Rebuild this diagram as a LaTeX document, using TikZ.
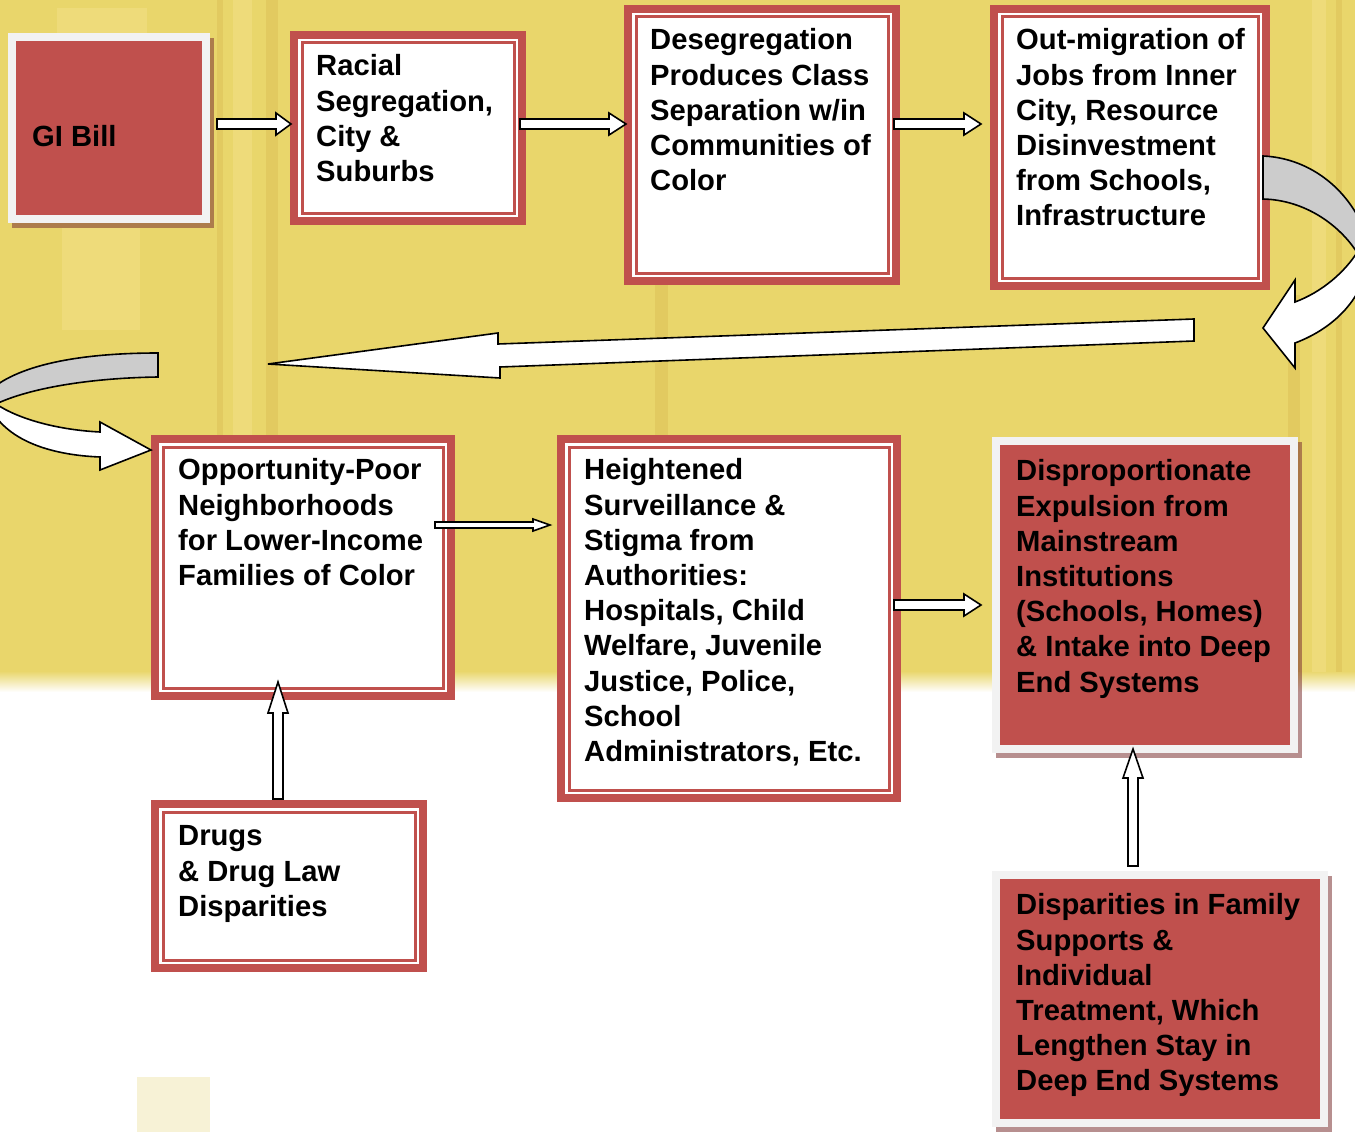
\documentclass[tikz,border=0pt]{standalone}
\usepackage{fontspec}
\setmainfont{Liberation Sans}
\usetikzlibrary{calc}
\definecolor{bred}{HTML}{C0504D}
\definecolor{bgy}{HTML}{E9D66B}
\definecolor{framec}{HTML}{F2F2F2}
\definecolor{shadc}{HTML}{7C3333}
\definecolor{arrgray}{HTML}{CCCCCC}
\definecolor{stD}{HTML}{E2CA60}
\definecolor{stL}{HTML}{EEDB7A}
\definecolor{paley}{HTML}{F7F2D6}
\tikzset{
 wboxs/.style={draw=bred, line width=8pt, fill=white, inner sep=0pt, outer sep=0pt},
 rboxs/.style={draw=framec, line width=8pt, fill=bred, inner sep=0pt, outer sep=0pt},
 txt/.style={font=\fontsize{29.2}{35.2}\selectfont\bfseries, align=left, inner sep=0pt, anchor=north west, text=black},
 barrow/.style={fill=white, draw=black, line width=1.6pt, line join=miter},
 carrow/.style={fill=arrgray, draw=black, line width=1.6pt},
 shadowfill/.style={fill=shadc, opacity=.55},
}
\newcommand\mkwbox[5]{%
 \node[wboxs, minimum width={(#4-#2-8)*1pt}, minimum height={(#5-#3-8)*1pt}] (#1) at ({(#2+#4)/2},{(#3+#5)/2}) {};
 \draw[bred, line width=3pt] ([xshift=8pt,yshift=-8pt]#1.north west) rectangle ([xshift=-8pt,yshift=8pt]#1.south east);}
\newcommand\mkrbox[5]{%
 \fill[shadowfill] ({#2+4},{#3+5}) rectangle ({#4+4},{#5+5});
 \node[rboxs, minimum width={(#4-#2-8)*1pt}, minimum height={(#5-#3-8)*1pt}] (#1) at ({(#2+#4)/2},{(#3+#5)/2}) {};}
\newcommand\rarr[6]{%
 \draw[barrow] (#1,{#3-#4}) -- ({#2-#6},{#3-#4}) -- ({#2-#6},{#3-#5}) -- (#2,#3) -- ({#2-#6},{#3+#5}) -- ({#2-#6},{#3+#4}) -- (#1,{#3+#4}) -- cycle;}
\newcommand\uarr[6]{%
 \draw[barrow] ({#1-#4},#2) -- ({#1-#4},{#3+#6}) -- ({#1-#5},{#3+#6}) -- (#1,#3) -- ({#1+#5},{#3+#6}) -- ({#1+#4},{#3+#6}) -- ({#1+#4},#2) -- cycle;}
\begin{document}
\begin{tikzpicture}[x=1pt,y=-1pt]
\useasboundingbox (0,0) rectangle (1355,1132);
% background
\fill[white] (0,0) rectangle (1355,1132);
\fill[bgy] (0,0) rectangle (1355,672);
\shade[top color=bgy, bottom color=white] (0,671) rectangle (1355,692);
\fill[stD] (217,0) rectangle (223,672);
\fill[stL] (233,0) rectangle (252,672);
\fill[stD] (266,0) rectangle (278,672);
\fill[stL] (57,8) rectangle (147,33);
\fill[stL] (62,228) rectangle (140,330);
\fill[stD] (655,285) rectangle (668,435);
\fill[stD] (1288,295) rectangle (1300,672);
\fill[stL] (1312,0) rectangle (1326,672);
\fill[stD] (1336,0) rectangle (1342,672);
\fill[paley] (137,1077) rectangle (210,1132);
% boxes
\mkrbox{gi}{8}{33}{210}{223}
\mkwbox{ra}{290}{31}{526}{225}
\mkwbox{de}{624}{5}{900}{285}
\mkwbox{om}{990}{5}{1270}{290}
\mkwbox{op}{151}{435}{455}{700}
\mkwbox{hs}{557}{435}{901}{802}
\mkrbox{dp}{992}{437}{1298}{753}
\mkwbox{dr}{151}{800}{427}{972}
\mkrbox{df}{992}{871}{1328}{1127}
% texts
\node[txt, anchor=base west] (git) at ([xshift=20pt,yshift=-18pt]gi.west) {GI Bill};
\node[txt] (rat) at ([xshift=22pt,yshift=-16pt]ra.north west) {\strut Racial\\Segregation,\\City \&\\Suburbs};
\node[txt] (det) at ([xshift=22pt,yshift=-16pt]de.north west) {\strut Desegregation\\Produces Class\\Separation w/in\\Communities of\\Color};
\node[txt] (omt) at ([xshift=22pt,yshift=-16pt]om.north west) {\strut Out-migration of\\Jobs from Inner\\City, Resource\\Disinvestment\\from Schools,\\Infrastructure};
\node[txt] (opt) at ([xshift=23pt,yshift=-16pt]op.north west) {\strut Opportunity-Poor\\Neighborhoods\\for Lower-Income\\Families of Color};
\node[txt] (hst) at ([xshift=23pt,yshift=-16pt]hs.north west) {\strut Heightened\\Surveillance \&\\Stigma from\\Authorities:\\Hospitals, Child\\Welfare, Juvenile\\Justice, Police,\\School\\Administrators, Etc.};
\node[txt] (dpt) at ([xshift=20pt,yshift=-15pt]dp.north west) {\strut Disproportionate\\Expulsion from\\Mainstream\\Institutions\\(Schools, Homes)\\\& Intake into Deep\\End Systems};
\node[txt] (drt) at ([xshift=23pt,yshift=-17pt]dr.north west) {\strut Drugs\\\& Drug Law\\Disparities};
\node[txt] (dft) at ([xshift=20pt,yshift=-15pt]df.north west) {\strut Disparities in Family\\Supports \&\\Individual\\Treatment, Which\\Lengthen Stay in\\Deep End Systems};
% straight block arrows
\rarr{217}{291}{124}{5}{11}{15}
\rarr{520}{626}{124}{5}{11}{17}
\rarr{894}{981}{124}{5}{11}{17}
\rarr{894}{981}{605}{5}{11}{17}
\rarr{435}{550}{525}{3}{6}{17}
\uarr{278}{799}{682}{5}{10}{31}
\uarr{1133}{866}{749}{5}{10}{29}
% long arrow
\draw[barrow] (1194,319) -- (498,344) -- (498,333) -- (268,364) -- (500,378) -- (500,367) -- (1194,341) -- cycle;
% curved arrows
\begin{scope}
\clip (0,0) rectangle (1355,1132);
\draw[carrow] (1263,156) .. controls (1310,158) and (1352,190) .. (1368,240) -- (1358,254) .. controls (1340,225) and (1305,200) .. (1263,199) -- cycle;
\draw[barrow] (1358,251) .. controls (1345,272) and (1322,292) .. (1295,302) -- (1295,280) -- (1263,328) -- (1295,368) -- (1295,343) .. controls (1335,328) and (1370,295) .. (1370,244) -- cycle;
\draw[carrow] (158,353) .. controls (90,353) and (20,362) .. (-12,392) -- (-4,404) .. controls (30,388) and (90,378) .. (158,377) -- cycle;
\draw[barrow] (-4,404) .. controls (20,420) and (60,430) .. (100,432) -- (100,422) -- (151,450) -- (100,470) -- (100,457) .. controls (50,455) and (0,440) .. (-14,398) -- cycle;
\end{scope}
\end{tikzpicture}
\end{document}
